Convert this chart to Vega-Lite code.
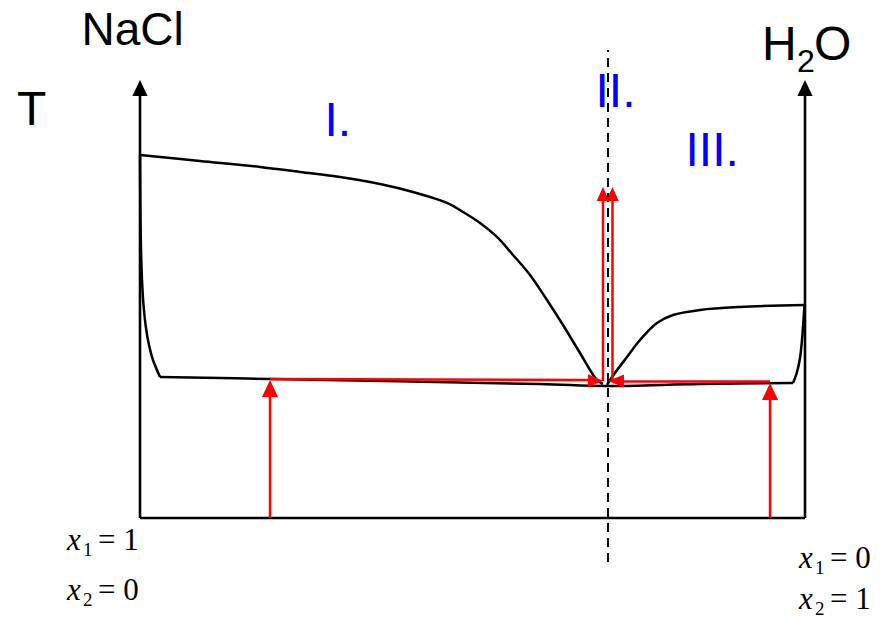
{
  "$schema": "https://vega.github.io/schema/vega-lite/v6.json",
  "width": 886,
  "height": 619,
  "autosize": {"type": "none"},
  "padding": 0,
  "background": "white",
  "config": {"view": {"stroke": null}},
  "datasets": {
    "curves": [
      {"c": "A", "i": 0, "x": 0, "T": 82.88},
      {"c": "A", "i": 1, "x": 0.0902, "T": 81.51},
      {"c": "A", "i": 2, "x": 0.1805, "T": 80.14},
      {"c": "A", "i": 3, "x": 0.2406, "T": 79.0},
      {"c": "A", "i": 4, "x": 0.3008, "T": 77.85},
      {"c": "A", "i": 5, "x": 0.3609, "T": 76.26},
      {"c": "A", "i": 6, "x": 0.4105, "T": 74.43},
      {"c": "A", "i": 7, "x": 0.4617, "T": 71.92},
      {"c": "A", "i": 8, "x": 0.4857, "T": 69.86},
      {"c": "A", "i": 9, "x": 0.5113, "T": 67.35},
      {"c": "A", "i": 10, "x": 0.5368, "T": 64.16},
      {"c": "A", "i": 11, "x": 0.5609, "T": 60.05},
      {"c": "A", "i": 12, "x": 0.5865, "T": 55.48},
      {"c": "A", "i": 13, "x": 0.612, "T": 49.77},
      {"c": "A", "i": 14, "x": 0.6361, "T": 44.06},
      {"c": "A", "i": 15, "x": 0.6617, "T": 37.67},
      {"c": "A", "i": 16, "x": 0.6872, "T": 31.51},
      {"c": "A", "i": 17, "x": 0.6962, "T": 30.59},
      {"c": "B", "i": 0, "x": 0, "T": 82.88},
      {"c": "B", "i": 1, "x": 0.00045, "T": 72.6},
      {"c": "B", "i": 2, "x": 0.0012, "T": 63.47},
      {"c": "B", "i": 3, "x": 0.003, "T": 54.34},
      {"c": "B", "i": 4, "x": 0.0053, "T": 48.63},
      {"c": "B", "i": 5, "x": 0.009, "T": 43.38},
      {"c": "B", "i": 6, "x": 0.0135, "T": 39.5},
      {"c": "B", "i": 7, "x": 0.0195, "T": 36.07},
      {"c": "B", "i": 8, "x": 0.0301, "T": 32.19},
      {"c": "C", "i": 0, "x": 0.0301, "T": 32.19},
      {"c": "C", "i": 1, "x": 0.1955, "T": 31.74},
      {"c": "C", "i": 2, "x": 0.6015, "T": 30.59},
      {"c": "C", "i": 3, "x": 0.6992, "T": 30.14},
      {"c": "C", "i": 4, "x": 0.8421, "T": 30.59},
      {"c": "C", "i": 5, "x": 0.982, "T": 30.82},
      {"c": "E", "i": 0, "x": 0.982, "T": 30.82},
      {"c": "E", "i": 1, "x": 0.988, "T": 33.33},
      {"c": "E", "i": 2, "x": 0.9925, "T": 36.53},
      {"c": "E", "i": 3, "x": 0.9955, "T": 40.64},
      {"c": "E", "i": 4, "x": 0.9977, "T": 45.21},
      {"c": "E", "i": 5, "x": 0.9992, "T": 48.63},
      {"c": "D", "i": 0, "x": 0.7023, "T": 30.37},
      {"c": "D", "i": 1, "x": 0.7098, "T": 32.19},
      {"c": "D", "i": 2, "x": 0.7323, "T": 36.76},
      {"c": "D", "i": 3, "x": 0.7519, "T": 40.64},
      {"c": "D", "i": 4, "x": 0.7774, "T": 44.52},
      {"c": "D", "i": 5, "x": 0.8015, "T": 46.35},
      {"c": "D", "i": 6, "x": 0.8421, "T": 47.49},
      {"c": "D", "i": 7, "x": 0.9023, "T": 48.17},
      {"c": "D", "i": 8, "x": 1.0, "T": 48.63}
    ],
    "axisLines": [
      {"x": 0, "T": 0, "xe": 0, "Te": 97.26},
      {"x": 1, "T": 0, "xe": 1, "Te": 97.26},
      {"x": 0, "T": 0, "xe": 1, "Te": 0}
    ],
    "axisHeads": [
      {"x": 0, "T": 98.17},
      {"x": 1, "T": 98.17}
    ],
    "redLines": [
      {"x": 0.1955, "T": 0, "xe": 0.1955, "Te": 27.85},
      {"x": 0.9474, "T": 0, "xe": 0.9474, "Te": 27.4},
      {"x": 0.1955, "T": 31.74, "xe": 0.6797, "Te": 31.51},
      {"x": 0.9474, "T": 31.16, "xe": 0.7248, "Te": 31.16},
      {"x": 0.6962, "T": 31.28, "xe": 0.6962, "Te": 73.06},
      {"x": 0.7105, "T": 31.28, "xe": 0.7105, "Te": 73.06}
    ],
    "redUpBottom": [
      {"x": 0.1955, "T": 29.57},
      {"x": 0.9474, "T": 28.88}
    ],
    "redUpCenter": [
      {"x": 0.6962, "T": 73.97},
      {"x": 0.7105, "T": 73.97}
    ],
    "redRight": [{"x": 0.685, "T": 31.35}],
    "redLeft": [{"x": 0.7158, "T": 31.28}],
    "dash": [{"x": 0.7038, "T": -10.05, "xe": 0.7038, "Te": 106.85}],
    "titleSmall": [{"label": "NaCl", "x": -0.088, "T": 107.99}],
    "titleBig": [
      {"label": "T", "x": -0.185, "T": 89.73},
      {"label": "H", "x": 0.9353, "T": 104.57},
      {"label": "O", "x": 1.0135, "T": 104.57}
    ],
    "sub2": [{"label": "2", "x": 0.988, "T": 101.83}],
    "regions": [
      {"label": "I.", "x": 0.2774, "T": 87.28},
      {"label": "II.", "x": 0.685, "T": 93.84},
      {"label": "III.", "x": 0.8203, "T": 80.37}
    ],
    "xVar": [
      {"label": "x", "x": -0.1098, "T": -7.31},
      {"label": "x", "x": -0.1098, "T": -18.72},
      {"label": "x", "x": 0.991, "T": -11.42},
      {"label": "x", "x": 0.991, "T": -20.78}
    ],
    "xSub": [
      {"label": "1", "x": -0.0857, "T": -8.68},
      {"label": "2", "x": -0.0857, "T": -20.09},
      {"label": "1", "x": 1.015, "T": -12.79},
      {"label": "2", "x": 1.015, "T": -22.15}
    ],
    "xVal": [
      {"label": "= 1", "x": -0.0632, "T": -7.31},
      {"label": "= 0", "x": -0.0632, "T": -18.72},
      {"label": "= 0", "x": 1.0376, "T": -11.42},
      {"label": "= 1", "x": 1.0376, "T": -20.78}
    ]
  },
  "encoding": {
    "x": {"field": "x", "type": "quantitative", "scale": {"domain": [-0.21053, 1.1218], "nice": false, "zero": false}, "axis": null},
    "y": {"field": "T", "type": "quantitative", "scale": {"domain": [-23.06, 118.26], "nice": false, "zero": false}, "axis": null}
  },
  "layer": [
    {
      "data": {"name": "dash"},
      "mark": {"type": "rule", "color": "black", "strokeWidth": 2, "strokeDash": [9, 6]},
      "encoding": {"x2": {"field": "xe"}, "y2": {"field": "Te"}}
    },
    {
      "data": {"name": "curves"},
      "mark": {"type": "line", "color": "black", "strokeWidth": 2.5, "interpolate": "catmull-rom"},
      "encoding": {"detail": {"field": "c"}, "order": {"field": "i", "type": "quantitative"}}
    },
    {
      "data": {"name": "axisLines"},
      "mark": {"type": "rule", "color": "black", "strokeWidth": 2.6},
      "encoding": {"x2": {"field": "xe"}, "y2": {"field": "Te"}}
    },
    {
      "data": {"name": "axisHeads"},
      "mark": {"type": "point", "filled": true, "opacity": 1, "color": "black", "size": 256, "shape": "M0,-1L-0.95,1L0.95,1Z"}
    },
    {
      "data": {"name": "redLines"},
      "mark": {"type": "rule", "color": "#ff0000", "strokeWidth": 2.5},
      "encoding": {"x2": {"field": "xe"}, "y2": {"field": "Te"}}
    },
    {
      "data": {"name": "redUpBottom"},
      "mark": {"type": "point", "filled": true, "opacity": 1, "color": "#ff0000", "size": 289, "shape": "M0,-1L-0.95,1L0.95,1Z"}
    },
    {
      "data": {"name": "redUpCenter"},
      "mark": {"type": "point", "filled": true, "opacity": 1, "color": "#ff0000", "size": 196, "shape": "M0,-1L-0.9,1L0.9,1Z"}
    },
    {
      "data": {"name": "redRight"},
      "mark": {"type": "point", "filled": true, "opacity": 1, "color": "#ff0000", "size": 225, "shape": "M1,0L-1,-0.87L-1,0.87Z"}
    },
    {
      "data": {"name": "redLeft"},
      "mark": {"type": "point", "filled": true, "opacity": 1, "color": "#ff0000", "size": 256, "shape": "M-1,0L1,-0.8L1,0.8Z"}
    },
    {
      "data": {"name": "titleSmall"},
      "mark": {"type": "text", "font": "Liberation Sans", "fontSize": 46, "color": "black", "align": "left", "baseline": "alphabetic"},
      "encoding": {"text": {"field": "label"}}
    },
    {
      "data": {"name": "titleBig"},
      "mark": {"type": "text", "font": "Liberation Sans", "fontSize": 48, "color": "black", "align": "left", "baseline": "alphabetic"},
      "encoding": {"text": {"field": "label"}}
    },
    {
      "data": {"name": "sub2"},
      "mark": {"type": "text", "font": "Liberation Sans", "fontSize": 32, "color": "black", "align": "left", "baseline": "alphabetic"},
      "encoding": {"text": {"field": "label"}}
    },
    {
      "data": {"name": "regions"},
      "mark": {"type": "text", "font": "Liberation Sans", "fontSize": 48, "color": "#0000ff", "align": "left", "baseline": "alphabetic"},
      "encoding": {"text": {"field": "label"}}
    },
    {
      "data": {"name": "xVar"},
      "mark": {"type": "text", "font": "Liberation Serif", "fontStyle": "italic", "fontSize": 31, "color": "black", "align": "left", "baseline": "alphabetic"},
      "encoding": {"text": {"field": "label"}}
    },
    {
      "data": {"name": "xSub"},
      "mark": {"type": "text", "font": "Liberation Serif", "fontSize": 19, "color": "black", "align": "left", "baseline": "alphabetic"},
      "encoding": {"text": {"field": "label"}}
    },
    {
      "data": {"name": "xVal"},
      "mark": {"type": "text", "font": "Liberation Serif", "fontSize": 31, "color": "black", "align": "left", "baseline": "alphabetic"},
      "encoding": {"text": {"field": "label"}}
    }
  ]
}
